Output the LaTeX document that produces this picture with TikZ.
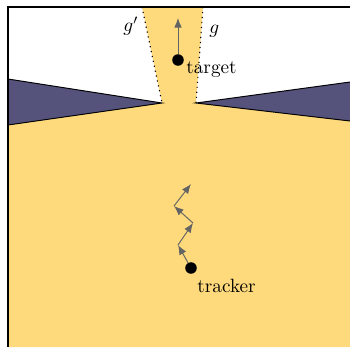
\documentclass[tikz,border=0pt]{standalone}
\usetikzlibrary{arrows.meta}
\definecolor{sand}{RGB}{255,218,124}
\definecolor{wedge}{RGB}{85,82,124}
\definecolor{arr}{RGB}{100,100,100}
\tikzset{
  dot/.style={circle,fill=black,inner sep=0pt,minimum size=6pt},
  move/.style={draw=arr,line width=0.5pt,-{Latex[length=5pt,width=4pt]}},
  ray/.style={dotted,line width=0.6pt},
  lbl/.style={inner sep=0pt,anchor=base west}
}
\begin{document}
\begin{tikzpicture}[x=0.52pt,y=-0.52pt]
\useasboundingbox (0,0) rectangle (350,347);
% yellow regions
\fill[sand] (142,7) -- (203,7) -- (196,103) -- (350,121) -- (350,347) -- (8,347) -- (8,125) -- (162,103) -- cycle;
% dark wedges
\filldraw[fill=wedge,draw=black,line width=0.5pt] (8,79) -- (162,103) -- (8,125);
\filldraw[fill=wedge,draw=black,line width=0.5pt] (350,82) -- (196,103) -- (350,121);
% dotted rays
\draw[ray] (142,7) -- (162,103);
\draw[ray] (203,7) -- (196,103);
% frame
\draw[line width=0.8pt] (8,347) -- (8,7) -- (350,7);
% labels of rays
\node[lbl] (gp) at (123,31) {$g'$};
\node[lbl] (g) at (209,33) {$g$};
% target
\node[dot] (target) at (178,60) {};
\node[lbl] (tlabel) at (186,73) {target};
\coordinate (tgoal) at (178,18);
\draw[move] (target) -- (tgoal);
% tracker
\node[dot] (tracker) at (191,268) {};
\node[lbl] (klabel) at (197,292) {tracker};
\coordinate (w1) at (178,245);
\coordinate (w2) at (193,223);
\coordinate (w3) at (174,206);
\coordinate (w4) at (191,184);
\draw[move] (tracker) -- (w1);
\draw[move] (w1) -- (w2);
\draw[move] (w2) -- (w3);
\draw[move] (w3) -- (w4);
\end{tikzpicture}
\end{document}
